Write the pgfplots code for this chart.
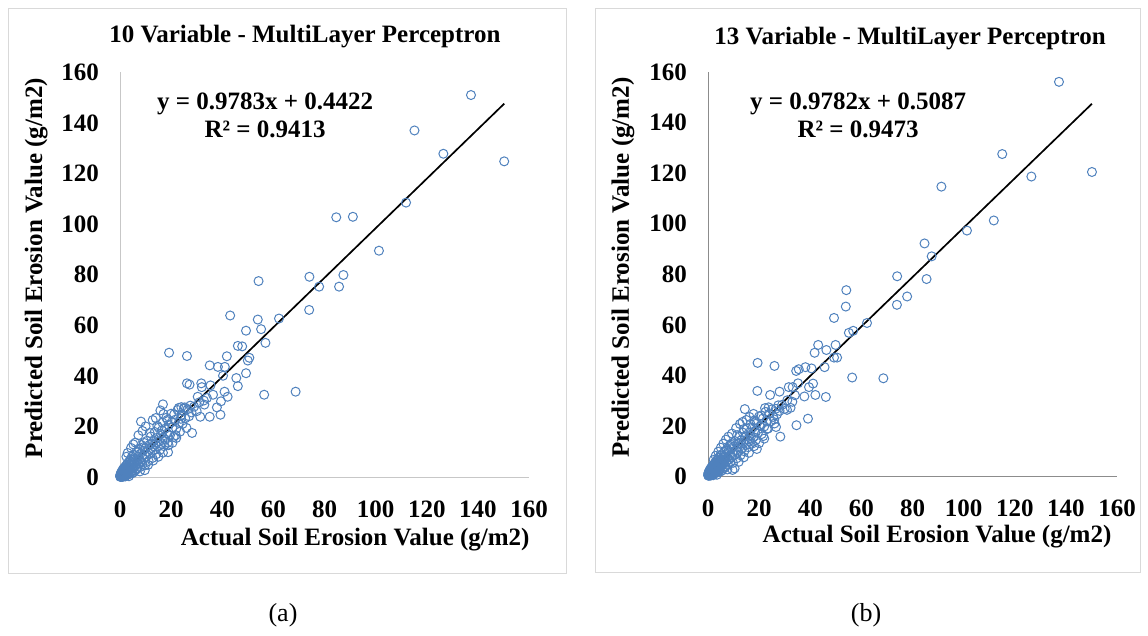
\documentclass[border=0pt]{standalone}
\usepackage{fontspec}
\setmainfont{Liberation Serif}
\usepackage{pgfplots}
\pgfplotsset{compat=1.18}
\definecolor{ptblue}{HTML}{4F81BD}
\definecolor{boxgray}{HTML}{D9D9D9}

\newcommand{\lblfont}{\fontsize{25}{28}\selectfont\bfseries}

\pgfplotsset{
  erosion/.style={
    scale only axis, width=409pt, height=405pt,
    xmin=0, xmax=160, ymin=0, ymax=160,
    xtick={0,20,...,160}, ytick={0,20,...,160},
    axis x line*=bottom, axis y line*=left,
    axis line style={-, line width=0.9pt},
    major tick length=0pt,
    clip=false,
    tick label style={font=\lblfont, inner sep=0pt},
    /pgf/number format/assume math mode=true,
    xticklabel style={anchor=base, yshift=-40pt},
    yticklabel style={anchor=base east, xshift=-21pt, yshift=-8.5pt},
    label style={font=\lblfont},
    title style={font=\lblfont, anchor=center},
  },
  pts/.style={only marks, mark=o, mark size=4.5pt, draw=ptblue,
    mark options={line width=1pt}},
  trend/.style={black, line width=1.7pt, no marks},
}

\begin{document}
\begin{tikzpicture}
\useasboundingbox (0,0) rectangle (1148pt,635pt);
\draw[boxgray, line width=0.8pt] (8pt,62pt) rectangle (566pt,627pt);
\draw[boxgray, line width=0.8pt] (595pt,63pt) rectangle (1140pt,627pt);

% (a) 10 variables
\begin{axis}[erosion, at={(120pt,158pt)}, anchor=south west,
  axis line style={draw=black!22},
  title={10 Variable - MultiLayer Perceptron},
  title style={at={(axis description cs:0.452,1.072)}},
  xlabel={Actual Soil Erosion Value (g/m2)},
  xlabel style={at={(axis description cs:0.575,-0.154)}, anchor=center},
  ylabel={Predicted Soil Erosion Value (g/m2)},
  ylabel style={at={(axis description cs:-0.205,0.516)}, anchor=center},
]
\addplot[pts] table {
x y
137.3 150.9
115.2 136.9
126.5 127.7
150.3 124.7
111.9 108.4
84.6 102.6
91.1 102.8
101.3 89.4
54.2 77.4
74.1 79.1
87.4 79.8
77.9 75.2
85.7 75.2
74.0 66.0
43.1 63.8
53.9 62.2
62.2 62.6
55.2 58.4
49.3 57.8
56.9 53.0
46.1 51.8
47.8 51.6
19.2 49.1
26.2 47.8
41.8 47.7
50.6 47.1
50.0 46.0
35.1 44.1
38.3 43.5
41.0 43.5
40.3 40.0
45.5 39.1
49.3 41.0
68.7 33.7
56.4 32.5
46.1 35.9
40.9 33.7
42.1 31.7
27.2 36.5
31.8 37.0
32.0 35.5
35.4 36.2
39.5 29.9
37.9 27.5
39.3 24.6
35.1 23.8
31.4 23.8
28.2 17.4
22.0 15.4
18.8 9.8
16.8 28.7
8.2 21.9
9.7 2.7
30.4 31.7
36.4 32.5
32.8 30.2
0.05 0.2
0.1 0.6
0.15 0.05
0.2 1.1
0.25 0.4
0.3 0.9
0.35 0.15
0.4 1.6
0.45 0.6
0.5 0.3
0.55 1.3
0.6 2.0
0.65 0.8
0.7 0.1
0.75 1.5
0.8 0.5
0.85 2.4
0.9 1.0
0.95 0.3
1.0 1.8
1.05 0.7
1.1 2.9
1.15 1.3
1.2 0.2
1.3 2.2
1.35 0.9
1.4 3.3
1.5 1.6
1.55 0.4
1.6 2.6
1.7 1.1
1.75 3.8
1.8 2.0
1.9 0.6
2.0 3.0
2.1 1.5
2.2 4.3
2.3 2.4
2.4 0.8
2.5 3.5
2.6 1.9
2.7 5.0
2.8 2.9
2.9 1.2
3.0 4.0
3.1 2.3
3.2 5.6
3.3 3.4
3.4 1.0
3.5 4.6
3.6 2.7
3.7 6.4
3.8 3.8
3.9 1.8
4.0 5.2
4.1 3.1
4.2 7.0
4.3 4.3
4.4 2.0
4.5 5.9
4.6 3.6
4.7 8.1
4.8 4.9
4.9 1.5
5.0 6.6
5.2 4.0
5.4 8.8
5.6 5.6
5.8 2.6
6.0 7.3
6.2 4.6
6.4 9.9
6.6 6.2
6.8 3.4
7.0 8.1
7.2 5.3
7.4 11.2
7.6 7.0
7.8 3.9
8.0 9.2
8.2 6.1
8.4 12.6
8.6 7.9
8.8 5.0
9.0 10.4
9.2 7.2
9.4 13.5
9.6 8.8
9.8 4.6
10.0 11.5
10.3 8.0
10.6 14.3
10.9 10.0
11.2 6.3
11.5 12.7
11.8 9.2
12.1 16.0
12.4 11.4
12.7 7.5
13.0 14.0
13.3 10.6
13.6 17.8
13.9 12.8
14.2 9.0
14.5 15.5
14.8 12.0
15.1 19.5
15.4 14.2
15.7 10.8
16.0 17.0
16.3 13.0
16.6 21.5
16.9 15.6
17.2 12.2
17.5 19.0
17.8 14.8
18.1 23.4
18.4 17.2
18.7 13.6
19.0 20.6
19.5 16.4
20.0 25.0
20.5 19.6
21.0 15.8
21.5 22.6
22.0 19.0
22.5 26.5
23.0 21.4
23.5 17.9
24.0 24.5
24.5 21.0
25.0 27.0
25.5 23.2
26.0 19.4
26.5 26.8
27.0 24.0
27.5 28.2
28.0 25.5
29.0 27.8
30.0 26.0
31.0 29.5
33.0 28.6
34.0 31.2
26.2 37.0
23.0 27.3
24.0 27.6
25.3 27.5
14.0 23.3
12.8 22.5
15.8 26.3
17.0 24.9
10.0 20.0
8.8 18.2
7.2 16.5
6.0 13.6
5.2 12.9
4.3 11.5
2.5 8.0
3.0 9.5
11.0 4.8
13.0 6.5
15.0 8.0
16.8 9.6
19.0 12.6
20.5 13.5
21.8 16.5
5.5 2.0
6.5 3.0
7.8 2.2
3.5 0.3
2.0 0.2
1.0 0.1
11.6 17.4
14.6 20.2
18.6 22.6
21.2 24.8
12.2 13.2
16.4 18.4
20.2 21.6
23.8 23.0
9.2 11.8
7.0 9.8
};
\addplot[trend] coordinates {(0,0.4422) (150.3,147.48)};
\node[font=\lblfont, align=center] at (axis description cs:0.355,0.893)
  {y = 0.9783x + 0.4422\\R² = 0.9413};
\end{axis}

% (b) 13 variables
\begin{axis}[erosion, at={(708pt,159pt)}, anchor=south west, height=404pt,
  axis line style={draw=black!45},
  title={13 Variable - MultiLayer Perceptron},
  title style={at={(axis description cs:0.494,1.069)}},
  xlabel={Actual Soil Erosion Value (g/m2)},
  xlabel style={at={(axis description cs:0.560,-0.150)}, anchor=center},
  ylabel={Predicted Soil Erosion Value (g/m2)},
  ylabel style={at={(axis description cs:-0.208,0.516)}, anchor=center},
]
\addplot[pts] table {
x y
137.3 156.1
115.1 127.5
150.2 120.4
126.5 118.6
91.3 114.6
111.8 101.2
101.3 97.2
84.7 92.1
87.5 87.0
85.5 78.0
74.0 79.1
77.9 71.1
73.9 67.8
54.1 73.6
53.9 67.1
49.3 62.6
62.2 60.6
55.1 56.7
56.8 57.5
43.1 51.9
49.9 51.9
46.3 49.9
41.7 48.8
49.3 46.9
50.5 46.9
19.4 44.8
26.0 43.6
38.1 43.1
40.5 42.6
45.6 43.1
34.5 41.6
35.5 42.3
56.4 39.0
68.6 38.7
19.3 33.7
24.3 32.1
28.0 33.4
31.6 35.2
33.1 35.2
35.2 36.7
41.1 36.6
39.5 35.2
37.7 31.5
42.0 32.1
46.1 31.3
34.6 20.1
39.1 22.7
28.3 15.6
22.0 14.8
19.1 10.7
14.4 26.5
9.6 2.4
30.9 26.2
32.3 27.0
22.3 26.9
23.7 27.2
25.9 22.4
26.6 19.4
23.0 18.6
0.05 0.3
0.1 0.8
0.15 0.1
0.2 1.3
0.25 0.5
0.3 1.0
0.35 0.2
0.4 1.8
0.45 0.7
0.5 0.4
0.55 1.5
0.6 2.2
0.65 0.9
0.7 0.2
0.75 1.7
0.8 0.6
0.85 2.6
0.9 1.2
0.95 0.4
1.0 2.0
1.05 0.8
1.1 3.1
1.15 1.5
1.2 0.3
1.3 2.4
1.35 1.0
1.4 3.5
1.5 1.8
1.55 0.5
1.6 2.8
1.7 1.3
1.75 4.0
1.8 2.2
1.9 0.8
2.0 3.2
2.1 1.7
2.2 4.5
2.3 2.6
2.4 1.0
2.5 3.7
2.6 2.1
2.7 5.2
2.8 3.1
2.9 1.4
3.0 4.2
3.1 2.5
3.2 5.8
3.3 3.6
3.4 1.3
3.5 4.8
3.6 2.9
3.7 6.6
3.8 4.0
3.9 2.0
4.0 5.4
4.1 3.3
4.2 7.2
4.3 4.5
4.4 2.3
4.5 6.1
4.6 3.8
4.7 8.0
4.8 5.1
4.9 1.8
5.0 6.8
5.2 4.2
5.4 8.6
5.6 5.8
5.8 3.0
6.0 7.5
6.2 4.9
6.4 9.6
6.6 6.4
6.8 3.8
7.0 8.3
7.2 5.7
7.4 10.8
7.6 7.2
7.8 4.4
8.0 9.4
8.2 6.5
8.4 12.0
8.6 8.1
8.8 5.4
9.0 10.6
9.2 7.6
9.4 13.0
9.6 9.0
9.8 5.2
10.0 11.7
10.3 8.4
10.6 13.8
10.9 10.2
11.2 7.0
11.5 12.9
11.8 9.6
12.1 15.5
12.4 11.6
12.7 8.2
13.0 14.2
13.3 11.0
13.6 17.2
13.9 13.0
14.2 9.8
14.5 15.7
14.8 12.4
15.1 18.8
15.4 14.4
15.7 11.4
16.0 17.2
16.3 13.6
16.6 20.6
16.9 15.8
17.2 12.8
17.5 19.2
17.8 15.4
18.1 22.0
18.4 17.4
18.7 14.2
19.0 20.8
19.5 17.0
20.0 23.6
20.5 19.8
21.0 16.6
21.5 22.8
22.0 19.6
22.5 25.4
23.0 21.6
23.5 18.8
24.0 24.6
24.5 21.6
25.0 26.4
25.5 23.4
26.0 20.8
26.5 26.6
27.0 24.4
27.5 28.0
28.0 25.8
29.0 28.2
30.0 26.6
31.0 30.0
33.0 29.4
34.0 32.0
12.5 20.6
11.0 19.0
13.5 21.4
15.0 22.2
9.4 16.8
8.0 15.6
7.0 14.4
6.0 12.8
5.0 11.2
4.0 9.6
3.0 8.0
2.2 6.4
16.2 23.4
17.8 24.6
10.4 3.0
12.0 5.6
14.0 7.4
16.0 9.2
18.0 11.8
20.0 13.0
21.6 15.8
5.5 2.2
6.5 3.2
7.6 2.6
3.5 0.5
2.0 0.3
1.0 0.2
11.4 16.2
14.0 18.6
18.4 21.4
20.8 24.0
12.0 12.8
16.4 16.2
21.0 20.6
9.0 12.4
7.2 10.2
};
\addplot[trend] coordinates {(0,0.5087) (150.2,147.43)};
\node[font=\lblfont, align=center] at (axis description cs:0.367,0.892)
  {y = 0.9782x + 0.5087\\R² = 0.9473};
\end{axis}

\node[font=\fontsize{26}{30}\selectfont] at (283pt,20pt) {(a)};
\node[font=\fontsize{26}{30}\selectfont] at (866pt,20pt) {(b)};
\end{tikzpicture}
\end{document}
